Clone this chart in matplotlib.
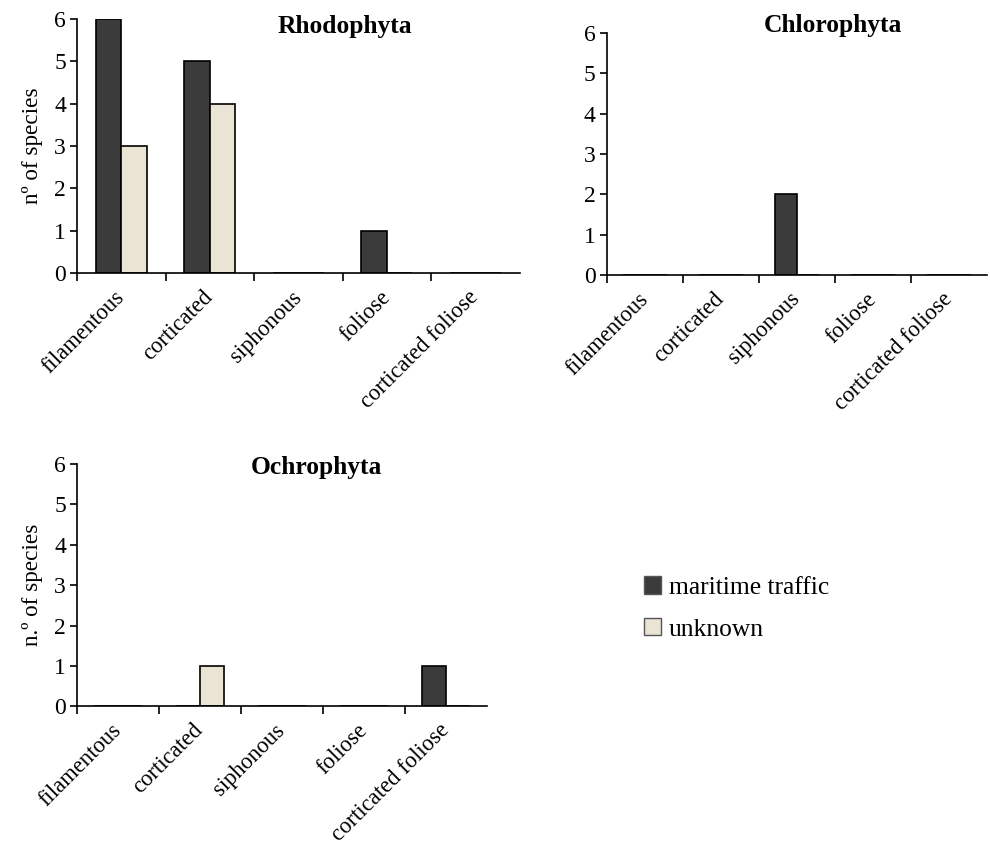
import matplotlib.pyplot as plt
import matplotlib.patches as mpatches
import numpy as np

plt.rcParams['font.family'] = ['Liberation Serif', 'DejaVu Serif']

categories = ["filamentous", "corticated", "siphonous", "foliose", "corticated foliose"]
series = ["maritime traffic", "unknown"]

rhodo_maritime = [6, 5, 0, 1, 0]
rhodo_unknown = [3, 4, 0, 0, 0]
chloro_maritime = [0, 0, 2, 0, 0]
chloro_unknown = [0, 0, 0, 0, 0]
ochro_maritime = [0, 0, 0, 0, 1]
ochro_unknown = [0, 1, 0, 0, 0]

dark = "#3b3b3b"
light = "#e9e4d3"

fig = plt.figure(figsize=(9.9, 8.49), dpi=100)

# title, values, axes rect, ylabel, title x / y (axes fraction)
panels = [
    ("Rhodophyta", rhodo_maritime, rhodo_unknown, [0.0778, 0.678, 0.447, 0.300], "nº of species", 0.605, 0.97),
    ("Chlorophyta", chloro_maritime, chloro_unknown, [0.613, 0.676, 0.384, 0.285], None, 0.595, 1.033),
    ("Ochrophyta", ochro_maritime, ochro_unknown, [0.0778, 0.168, 0.414, 0.2855], "n.º of species", 0.585, 0.985),
]

w = 0.29
x = np.arange(len(categories)) + 0.5
for title, mar, unk, rect, ylab, tx, ty in panels:
    ax = fig.add_axes(rect)
    ax.bar(x - w / 2, mar, w, color=dark, edgecolor="black", linewidth=1.2)
    ax.bar(x + w / 2, unk, w, color=light, edgecolor="black", linewidth=1.2)
    ax.set_xlim(0, len(categories))
    ax.set_ylim(0, 6)
    ax.set_yticks(range(7))
    ax.spines["top"].set_visible(False)
    ax.spines["right"].set_visible(False)
    ax.spines["left"].set_linewidth(1.2)
    ax.spines["bottom"].set_linewidth(1.2)
    ax.set_xticks(x)
    ax.set_xticklabels(categories, rotation=45, ha="right", va="center",
                       rotation_mode="anchor", fontsize=16.3)
    ax.set_xticks(np.arange(len(categories)), minor=True)
    ax.tick_params(axis="x", which="major", length=0, pad=15)
    ax.tick_params(axis="x", which="minor", length=6, width=1.2, direction="out")
    ax.tick_params(axis="y", length=5, width=1.2, labelsize=17, pad=3)
    if ylab:
        ax.set_ylabel(ylab, fontsize=16.7, labelpad=8)
    ax.text(tx, ty, title, transform=ax.transAxes, ha="center", va="center",
            fontsize=18.4, fontweight="bold")

handles = [mpatches.Patch(facecolor=dark, edgecolor="#555555", label=series[0]),
           mpatches.Patch(facecolor=light, edgecolor="#555555", label=series[1])]
fig.legend(handles=handles, loc="upper left", bbox_to_anchor=(0.651, 0.321),
           frameon=False, fontsize=18.4, handlelength=0.65, handleheight=0.65,
           handletextpad=0.3, labelspacing=0.75, borderpad=0, borderaxespad=0)

fig.savefig("out.png", dpi=100)
